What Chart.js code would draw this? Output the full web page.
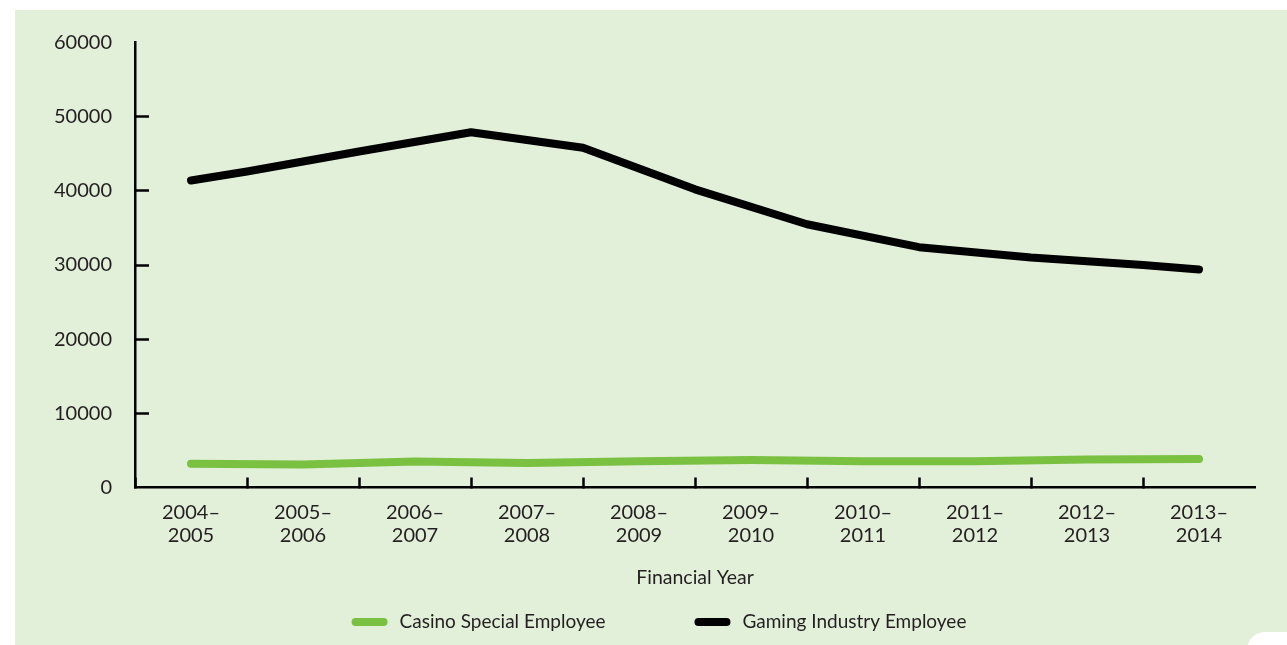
<!DOCTYPE html>
<html>
<head>
<meta charset="utf-8">
<title>Employee licences by financial year</title>
<script src="https://cdn.jsdelivr.net/npm/chart.js@4.4.1/dist/chart.umd.min.js"></script>
<style>
  html, body { margin: 0; padding: 0; background: #fff; }
  #wrap { width: 1287px; height: 645px; position: relative; }
</style>
</head>
<body>
<div id="wrap"><canvas id="chart"></canvas></div>
<script>
// ----- Data -----
const yearLabels = [
  ["2004–", "2005"], ["2005–", "2006"], ["2006–", "2007"], ["2007–", "2008"], ["2008–", "2009"],
  ["2009–", "2010"], ["2010–", "2011"], ["2011–", "2012"], ["2012–", "2013"], ["2013–", "2014"],
];
const casinoSpecial = [3200, 3100, 3500, 3300, 3550, 3700, 3550, 3550, 3780, 3850];
// gaming series is sampled at the year boundaries, plus both ends
const gamingSteps    = [0, 0.5, 1.5, 2.5, 3.5, 4.5, 5.5, 6.5, 7.5, 8.5, 9];
const gamingIndustry = [41400, 42600, 45300, 47900, 45800, 40200, 35500, 32400, 31000, 30000, 29400];
const yTickMax = 60000;
const yTickStep = 10000;

const GREEN = "#7ac142";
const INK   = "#231f20";
const FONT  = "Lato";
Chart.defaults.font.family = FONT;
Chart.defaults.color = INK;

const hideTick = "rgba(0,0,0,0)";

// ----- Panel background with the curled corner -----
const panelBg = {
  id: "panelBg",
  beforeDraw(chart) {
    const { ctx, width, height } = chart;
    ctx.save();
    ctx.fillStyle = "#e2efd9";
    ctx.fillRect(15, 10, width - 15, height - 10);
    ctx.fillStyle = "#fff";
    ctx.beginPath();
    ctx.moveTo(width - 40, height);
    ctx.arc(width - 22, height + 5, 18, Math.PI, Math.PI * 1.5);
    ctx.lineTo(width, height - 13);
    ctx.lineTo(width, height);
    ctx.closePath();
    ctx.fill();
    ctx.restore();
  },
};

// ----- Legend: thick line swatch + label, spaced wide -----
const lineLegend = {
  id: "lineLegend",
  afterDraw(chart) {
    const ctx = chart.ctx;
    const SW = 36, GAP = 12, ITEM_GAP = 89, CX = 659, CY = 622;
    ctx.save();
    ctx.font = `19px ${FONT}`;
    ctx.textBaseline = "middle";
    const items = chart.data.datasets.map(ds => ({ ds, w: ctx.measureText(ds.label).width }));
    const total = items.reduce((s, it) => s + SW + GAP + it.w, 0) + ITEM_GAP * (items.length - 1);
    let x = CX - total / 2;
    for (const it of items) {
      ctx.strokeStyle = it.ds.borderColor;
      ctx.lineWidth = it.ds.borderWidth;
      ctx.lineCap = "round";
      ctx.beginPath();
      ctx.moveTo(x + it.ds.borderWidth / 2, CY);
      ctx.lineTo(x + SW - it.ds.borderWidth / 2, CY);
      ctx.stroke();
      ctx.fillStyle = INK;
      ctx.fillText(it.ds.label, x + SW + GAP, CY);
      x += SW + GAP + it.w + ITEM_GAP;
    }
    ctx.restore();
  },
};

new Chart(document.getElementById("chart"), {
  type: "line",
  data: {
    labels: yearLabels,
    datasets: [
      {
        label: "Casino Special Employee",
        data: casinoSpecial.map((v, i) => ({ x: i, y: v })),
        xAxisID: "xPos",
        borderColor: GREEN,
        borderWidth: 8,
        borderCapStyle: "round",
        borderJoinStyle: "round",
        pointRadius: 0,
        tension: 0,
      },
      {
        label: "Gaming Industry Employee",
        data: gamingIndustry.map((v, i) => ({ x: gamingSteps[i], y: v })),
        xAxisID: "xPos",
        borderColor: "#000",
        borderWidth: 8,
        borderCapStyle: "round",
        borderJoinStyle: "round",
        pointRadius: 0,
        tension: 0,
      },
    ],
  },
  options: {
    responsive: true,
    maintainAspectRatio: false,
    animation: false,
    layout: { padding: { left: 15, top: 42.5, right: 32, bottom: 52.5 } },
    plugins: { legend: { display: false }, tooltip: { enabled: false } },
    scales: {
      x: {
        type: "category",
        offset: true,
        border: { color: "#000", width: 2.5 },
        grid: {
          offset: true,
          drawOnChartArea: false,
          tickLength: -10,
          tickWidth: 2.5,
          tickColor: c => (c.index === undefined ? hideTick : "#000"),
        },
        ticks: { font: { size: 20, lineHeight: 1.15 }, padding: 23.5, maxRotation: 0, autoSkip: false, color: INK },
        title: { display: true, text: "Financial Year", font: { size: 19.5 }, padding: { top: 0, bottom: 3 }, color: INK },
        afterFit: s => { s.height = 105; },
      },
      xPos: { type: "linear", min: -0.5, max: 9.5, display: false },
      y: {
        min: 0,
        max: yTickMax,
        border: { color: "#000", width: 2.5 },
        grid: {
          drawOnChartArea: false,
          tickLength: -14,
          tickWidth: 2.5,
          tickColor: c => (c.tick && c.tick.value > 0 && c.tick.value < yTickMax ? "#000" : hideTick),
        },
        ticks: { stepSize: yTickStep, padding: 37, font: { size: 20 }, color: INK, callback: v => String(v) },
        // the large label padding would otherwise push the plot top down
        afterFit: s => { s.width = 120; s.paddingTop = 0; s.paddingBottom = 0; },
      },
    },
  },
  plugins: [panelBg, lineLegend],
});
</script>
</body>
</html>
